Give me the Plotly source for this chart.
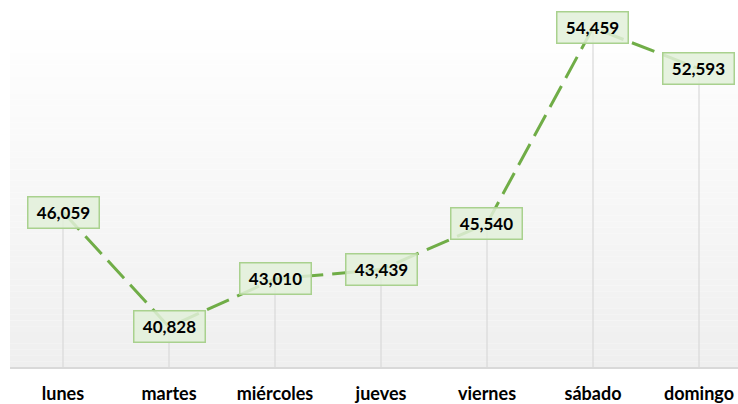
import plotly.graph_objects as go

days = ["lunes", "martes", "miércoles", "jueves", "viernes", "sábado", "domingo"]
values = [46059, 40828, 43010, 43439, 45540, 54459, 52593]
labels = ["46,059", "40,828", "43,010", "43,439", "45,540", "54,459", "52,593"]

Y_MIN = 39000
Y_MAX = 54900

fig = go.Figure()

# drop lines
fig.add_trace(go.Scatter(
    x=days, y=values, mode="markers",
    marker=dict(size=0.1, color="rgba(0,0,0,0)"),
    error_y=dict(type="data", symmetric=False, array=[0] * len(values),
                 arrayminus=[v - Y_MIN for v in values],
                 color="#d9d9d9", thickness=1.2, width=0),
    hoverinfo="skip", showlegend=False,
))

fig.add_trace(go.Scatter(
    x=days, y=values, mode="lines",
    line=dict(color="#70ad47", width=3, dash="24px,9px"),
    showlegend=False,
))

for d, v, t in zip(days, values, labels):
    fig.add_annotation(
        x=d, y=v, text="<b>" + t + "</b>", showarrow=False,
        font=dict(family="Lato", size=17, color="#000000"),
        bgcolor="rgba(226,240,217,0.85)", bordercolor="#a9d18e",
        borderwidth=1.5, borderpad=3, width=64, height=24,
        xanchor="center", yanchor="middle",
    )

# plot-area vertical gradient (white -> light gray)
n = 60
shapes = []
for i in range(n):
    f = i / (n - 1)
    c = int(round(255 - (255 - 239) * f))
    shapes.append(dict(
        type="rect", xref="paper", yref="paper",
        x0=0, x1=1, y0=1 - (i + 1) / n, y1=1 - i / n,
        fillcolor=f"rgb({c},{c},{c})", line=dict(width=0), layer="below",
    ))

fig.update_layout(
    width=738, height=404,
    margin=dict(l=10, r=0, t=18, b=37, autoexpand=False),
    paper_bgcolor="white", plot_bgcolor="rgba(0,0,0,0)",
    shapes=shapes,
    font=dict(family="Lato", color="#000000"),
    xaxis=dict(
        range=[-0.5, 6.368], showgrid=False, zeroline=False, automargin=False,
        showline=True, linecolor="#d9d9d9", linewidth=1.5,
        ticks="", tickfont=dict(family="Lato", size=18, color="#000000", weight="bold"),
        ticklabelstandoff=10,
    ),
    yaxis=dict(range=[Y_MIN, Y_MAX], visible=False, showgrid=False, zeroline=False,
               automargin=False),
)

fig.write_html(
    "out.html",
    config={"displayModeBar": False},
    post_script="document.body.style.margin='0';document.body.style.overflow='hidden';",
)
